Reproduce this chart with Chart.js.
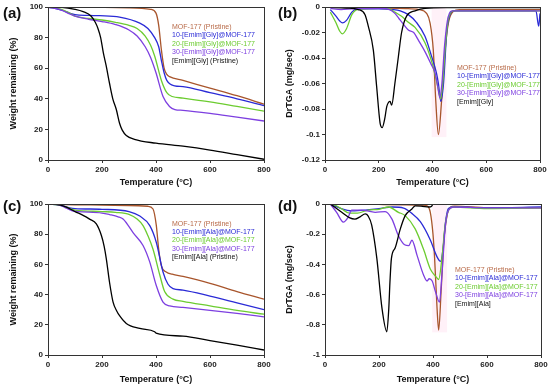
<!DOCTYPE html>
<html><head><meta charset="utf-8">
<script src="https://cdn.jsdelivr.net/npm/chart.js@4/dist/chart.umd.min.js"></script>
<style>
html,body{margin:0;padding:0;background:#fff;}
#wrap{position:relative;width:550px;height:387px;overflow:hidden;}
canvas{position:absolute;}
</style></head>
<body><div id="wrap">
<canvas id="ca" style="left:0;top:0" width="275" height="193"></canvas>
<canvas id="cb" style="left:275px;top:0" width="275" height="193"></canvas>
<canvas id="cc" style="left:0;top:193px" width="275" height="194"></canvas>
<canvas id="cd" style="left:275px;top:193px" width="275" height="194"></canvas>
</div>
<script>
// ---------- data: panel (a) TGA, [Emim][Gly] ----------
const aMofT = [0,100,200,300,380,400,410,420,430,440,450,500,600,700,800];
const aMofW = [100,100,99.8,99.5,98.5,96,88,72,60,56,54.5,52,47,42,36.5];
const a10T = [0,50,80,100,150,191,265,340,370,395,410,420,430,440,469,500,600,700,800];
const a10W = [100,98,96,95,94.5,94.3,93.4,89.5,86,80,74,65,57,52,48.5,48,44,40,35.5];
const a20T = [0,50,80,100,150,200,250,300,330,360,380,395,420,440,460,500,600,700,800];
const a20W = [100,98.5,96,94,92.5,91.5,90,88,86,81,75,68,52,44,41.5,40.5,38,35,32];
const a30T = [0,50,80,100,150,200,250,300,330,360,380,400,426,450,470,500,600,700,800];
const a30W = [100,98,95.5,94,92,90.5,88.5,85,81,74,67,57,41.5,35,33,32.5,30.5,28,25.5];
const aILT = [0,50,100,130,160,175,185,195,205,215,228,240,253,265,275,290,320,400,500,600,700,800];
const aILW = [100,99.8,98.5,97,94,90,86,80,70,62,50,40,33,24,19.5,16,13.5,11,9,6.5,3.5,0.5];

// ---------- data: panel (b) DrTGA, [Emim][Gly] ----------
const bMofT = [20,100,200,300,350,378,391,403,412,422,434,447,459,478,500,800];
const bMofV = [-0.0003,-0.0005,-0.0008,-0.0012,-0.002,-0.005,-0.0126,-0.034,-0.073,-0.1,-0.073,-0.034,-0.0126,-0.0034,-0.002,-0.002];
const b10T = [20,40,55,65,80,100,120,200,250,280,310,340,372,397,415,422,431,441,453,465,480,600,700,785,795,800];
const b10V = [-0.002,-0.007,-0.011,-0.0125,-0.0105,-0.004,-0.0015,-0.0015,-0.002,-0.003,-0.006,-0.012,-0.023,-0.039,-0.052,-0.06,-0.074,-0.06,-0.02,-0.006,-0.003,-0.003,-0.003,-0.003,-0.015,-0.005];
const b20T = [20,40,55,65,80,100,120,200,240,260,285,310,335,372,400,420,430,438,448,460,480,600,800];
const b20V = [-0.004,-0.012,-0.019,-0.021,-0.017,-0.006,-0.002,-0.001,-0.0015,-0.004,-0.0073,-0.012,-0.016,-0.028,-0.045,-0.063,-0.072,-0.06,-0.03,-0.008,-0.003,-0.003,-0.003];
const b30T = [20,60,100,200,240,260,275,290,310,330,350,372,395,410,420,427,435,445,458,475,600,800];
const b30V = [-0.001,-0.002,-0.0015,-0.001,-0.002,-0.005,-0.009,-0.013,-0.018,-0.02,-0.027,-0.035,-0.045,-0.052,-0.063,-0.071,-0.06,-0.03,-0.008,-0.003,-0.003,-0.003];
const bILT = [20,80,124,149,161,180,192,205,213,222,230,242,248,260,273,285,304,335,372,450,800];
const bILV = [-0.0003,-0.0008,-0.002,-0.006,-0.015,-0.034,-0.062,-0.091,-0.0946,-0.088,-0.078,-0.074,-0.077,-0.06,-0.039,-0.02,-0.007,-0.003,-0.001,-0.0005,-0.0005];
const bBand = [397, 452, -0.102];   // highlighted peak region: T from, T to, depth

// ---------- data: panel (c) TGA, [Emim][Ala] ----------
const cMofT = [0,100,200,300,370,389,401,410,420,438,460,500,600,700,800];
const cMofW = [100,99.5,99.3,99,98.5,96.7,86,70,59,55,53.5,52,47.5,42,37];
const c10T = [0,50,80,100,200,300,340,377,401,426,444,463,500,600,700,800];
const c10W = [100,99,97.5,97,96.5,95,92,85.7,74.7,55,47,44,43,39,34.5,30];
const c20T = [0,50,80,100,200,250,302,330,352,370,389,414,432,463,500,600,700,800];
const c20W = [100,99,97,96,95,94.5,93,90,85.7,79,70,53,42,37,35.5,32.5,29.5,27];
const c30T = [0,40,70,90,110,200,228,260,278,300,315,352,377,401,426,451,500,600,700,800];
const c30W = [100,99.5,97,95.5,95,94,93,91.5,90,85,81,72.5,61.5,46,35,32.5,31.5,29.5,27.5,25.3];
const cILT = [0,30,68,100,130,154,179,198,208,216,228,241,255,265,290,340,395,400,500,600,700,800];
const cILW = [100,99.7,98,95,92.5,90,86.8,79,72,63.7,48,35,29,26,20.9,17.6,15.4,14.5,12.5,9.5,6.5,3.3];

// ---------- data: panel (d) DrTGA, [Emim][Ala] ----------
const dMofT = [20,100,200,300,360,378,390,400,406,415,421,430,440,452,464,480,600,800];
const dMofV = [0,-0.002,-0.003,-0.005,-0.008,-0.012,-0.055,-0.2,-0.36,-0.69,-0.835,-0.58,-0.25,-0.077,-0.022,-0.015,-0.025,-0.025];
const d10T = [20,60,100,150,200,250,291,320,353,390,415,428,437,446,457,475,600,800];
const d10V = [0,-0.03,-0.045,-0.04,-0.03,-0.02,-0.027,-0.06,-0.117,-0.238,-0.35,-0.38,-0.3,-0.125,-0.03,-0.02,-0.025,-0.02];
const d20T = [20,40,60,90,120,160,200,235,272,297,334,365,390,410,421,433,445,458,475,600,800];
const d20V = [0,-0.01,-0.03,-0.06,-0.06,-0.04,-0.035,-0.02,-0.055,-0.077,-0.165,-0.3,-0.43,-0.48,-0.5,-0.36,-0.14,-0.04,-0.02,-0.03,-0.025];
const d30T = [20,43,68,85,99,136,186,223,248,272,295,310,322,341,365,378,386,397,409,424,433,446,458,475,600,800];
const d30V = [0,-0.055,-0.12,-0.09,-0.04,-0.04,-0.055,-0.05,-0.1,-0.21,-0.27,-0.275,-0.24,-0.34,-0.47,-0.51,-0.495,-0.51,-0.58,-0.65,-0.47,-0.14,-0.04,-0.02,-0.025,-0.025];
const dILT = [20,62,90,111,130,149,160,173,192,211,229,236,241,246,260,279,297,322,334,360,385,395,400,800];
const dILV = [0,-0.055,-0.09,-0.1,-0.085,-0.066,-0.08,-0.14,-0.36,-0.69,-0.846,-0.7,-0.5,-0.36,-0.29,-0.165,-0.077,-0.033,-0.012,-0.015,-0.02,-0.015,-0.002,-0.002];
const dBand = [397, 452, -0.85];

// ---------- labels ----------
const xTitle = 'Temperature (°C)';
const tgaTitle = 'Weight remaining (%)';
const dtgTitle = 'DrTGA (mg/sec)';
const glyLegendA = ['MOF-177 (Pristine)','10-[Emim][Gly]@MOF-177','20-[Emim][Gly]@MOF-177','30-[Emim][Gly]@MOF-177','[Emim][Gly] (Pristine)'];
const glyLegendB = ['MOF-177 (Pristine)','10-[Emim][Gly]@MOF-177','20-[Emim][Gly]@MOF-177','30-[Emim][Gly]@MOF-177','[Emim][Gly]'];
const alaLegendC = ['MOF-177 (Pristine)','10-[Emim][Ala]@MOF-177','20-[Emim][Ala]@MOF-177','30-[Emim][Ala]@MOF-177','[Emim][Ala] (Pristine)'];
const alaLegendD = ['MOF-177 (Pristine)','10-[Emim][Ala]@MOF-177','20-[Emim][Ala]@MOF-177','30-[Emim][Ala]@MOF-177','[Emim][Ala]'];

const lineColors = ['#a8552c','#2a2ad6','#6ccc30','#7d3fe0','#000000'];
const textColors = ['#b86a48','#2a2ad6','#6ccc30','#7d3fe0','#111111'];

function pts(xs, ys){ return xs.map((x,i)=>({x:x,y:ys[i]})); }

const FONT = 'Arial, "Liberation Sans", sans-serif';

function makeChart(id, series, yCfg, legend, panelLabel, band, opt){
  const ds = series.map((s,i)=>({
    label: legend[i], data: pts(s[0], s[1]),
    borderColor: lineColors[i], borderWidth: 1.3, pointRadius: 0,
    fill:false, cubicInterpolationMode:'monotone'
  })).reverse();
  const framePlugin = {
    id:'frame',
    beforeDatasetsDraw(chart){
      if(!band) return;
      const {ctx, scales:{x,y}} = chart;
      const x0 = x.getPixelForValue(band[0]), x1 = x.getPixelForValue(band[1]);
      const y0 = y.getPixelForValue(0), y1 = y.getPixelForValue(band[2]);
      ctx.save();
      ctx.fillStyle = 'rgba(255,190,225,0.22)';
      ctx.fillRect(x0, y0, x1-x0, y1-y0);
      ctx.restore();
    },
    afterDraw(chart){
      const {ctx, chartArea:a} = chart;
      ctx.save();
      ctx.strokeStyle = '#333'; ctx.lineWidth = 1;
      ctx.strokeRect(Math.round(a.left)+0.5, Math.round(a.top)+0.5, Math.round(a.right-a.left), Math.round(a.bottom-a.top));
      ctx.font = '7px ' + FONT;
      ctx.textBaseline = 'middle'; ctx.textAlign = 'left';
      legend.forEach((t,i)=>{ ctx.fillStyle = textColors[i]; ctx.fillText(t, opt.lx, opt.ly + i*opt.ld); });
      ctx.font = 'bold 15px ' + FONT;
      ctx.fillStyle = '#111';
      ctx.fillText(panelLabel, opt.px, opt.py);
      ctx.restore();
    }
  };
  return new Chart(document.getElementById(id), {
    type:'line',
    data:{datasets: ds},
    options:{
      responsive:false, animation:false, devicePixelRatio:1,
      layout:{padding:{top:opt.top, right:opt.right, left:0, bottom:0}},
      plugins:{legend:{display:false}, tooltip:{enabled:false}},
      scales:{
        x:{type:'linear', min:0, max:800,
          ticks:{stepSize:200, color:'#222', font:{family:FONT, size:8, weight:'bold'}, padding:2, maxRotation:0},
          grid:{drawOnChartArea:false, tickLength:3, color:'#333'},
          border:{color:'#333'},
          title:{display:true, text:xTitle, color:'#111', font:{family:FONT, size:9, weight:'bold'}, padding:{top:2,bottom:opt.tb}},
          afterFit(s){ s.height = opt.xh; }
        },
        y:{type:'linear', min:yCfg.min, max:yCfg.max,
          ticks:{stepSize:yCfg.step, color:'#222', font:{family:FONT, size:8, weight:'bold'}, padding:2,
            callback:v=>String(+v.toFixed(2))},
          grid:{drawOnChartArea:false, tickLength:3, color:'#333'},
          border:{color:'#333'},
          title:{display:true, text:yCfg.title, color:'#111', font:{family:FONT, size:9, weight:'bold'}, padding:{top:opt.tl,bottom:2}},
          afterFit(s){ s.width = opt.yw; }
        }
      }
    },
    plugins:[framePlugin]
  });
}

makeChart('ca', [[aMofT,aMofW],[a10T,a10W],[a20T,a20W],[a30T,a30W],[aILT,aILW]],
  {min:0,max:100,step:20,title:tgaTitle}, glyLegendA, '(a)', null,
  {top:7, right:11, xh:33, yw:48, lx:172, ly:27, ld:8.4, px:3, py:14, tb:5, tl:8});
makeChart('cb', [[bMofT,bMofV],[b10T,b10V],[b20T,b20V],[b30T,b30V],[bILT,bILV]],
  {min:-0.12,max:0,step:0.02,title:dtgTitle}, glyLegendB, '(b)', bBand,
  {top:7, right:10, xh:33, yw:50, lx:182, ly:68, ld:8.4, px:3, py:14, tb:5, tl:9});
makeChart('cc', [[cMofT,cMofW],[c10T,c10W],[c20T,c20W],[c30T,c30W],[cILT,cILW]],
  {min:0,max:100,step:20,title:tgaTitle}, alaLegendC, '(c)', null,
  {top:11, right:11, xh:32, yw:48, lx:172, ly:31, ld:8.2, px:3, py:14, tb:2, tl:8});
makeChart('cd', [[dMofT,dMofV],[d10T,d10V],[d20T,d20V],[d30T,d30V],[dILT,dILV]],
  {min:-1,max:0,step:0.2,title:dtgTitle}, alaLegendD, '(d)', dBand,
  {top:11, right:9, xh:32, yw:50, lx:180, ly:77, ld:8.5, px:3, py:14, tb:2, tl:9});
</script>
</body></html>
